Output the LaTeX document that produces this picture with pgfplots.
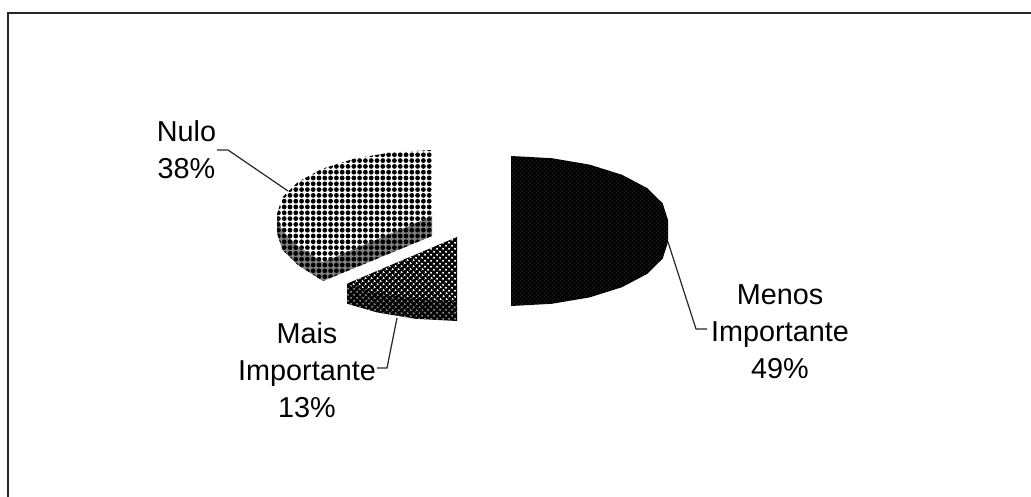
\documentclass[border=0pt]{standalone}
\usepackage{pgfplots}
\pgfplotsset{compat=1.18}
\usetikzlibrary{patterns.meta}
\usepackage{fontspec}
\setmainfont{Liberation Sans}
\tikzset{
  wedgelabel/.style={align=center,anchor=base,inner sep=0pt,font=\fontsize{28.8}{37}\selectfont,text=black},
  leader/.style={draw=black!85,line width=1.2pt},
  nulodots/.style={pattern={Dots[radius=2.4pt,distance=5.8pt]},pattern color=black},
}
\begin{document}
\begin{tikzpicture}
\begin{axis}[
  scale only axis,width=1031pt,height=497pt,
  xmin=0,xmax=1031,ymin=0,ymax=497,y dir=reverse,
  hide axis,no markers,
]
% keep the whole plot area inside the page
\path (axis cs:0,0) rectangle (axis cs:1031,497);

% outer frame
\addplot[draw=black!85,line width=1.8pt] coordinates {(8,497) (8,13) (1031,13)};

% Nulo (38%): side wall, then top face
\addplot[draw=none,preaction={fill=black!50},nulodots] coordinates {
  (277,214) (277,233) (282.3,249.6) (297.8,265) (323,281) (432,236) (432,214)} -- cycle;
\addplot[draw=none,preaction={fill=white},nulodots] coordinates {
  (432,150) (391.9,152.2) (354.5,158.6) (322.4,168.7) (297.8,182) (282.3,197.4)
  (277,214) (282.3,230.6) (297.8,246) (323,262) (432,216)} -- cycle;

% Mais Importante (13%): side wall, then top face
\addplot[draw=none,preaction={fill=black},pattern={Dots[radius=1.3pt,distance=4pt,angle=45]},pattern color=black!50] coordinates {
  (347,283.7) (347,303.7) (377,312.4) (415.6,318.8) (457,321) (457,301)} -- cycle;
\addplot[draw=none,preaction={fill=black},pattern={Dots[radius=1.3pt,distance=4pt,angle=45]},pattern color=white] coordinates {
  (457,237) (347,283.7) (377,292.4) (415.6,298.8) (457,301)} -- cycle;

% Menos Importante (49%): top face and wall share one dark fill
\addplot[draw=none,preaction={fill=black},pattern={Dots[radius=0.35pt,distance=2.83pt,angle=45]},pattern color=black!45] coordinates {
  (511,156) (551.7,158.2) (589.5,164.6) (622,174.8) (647,188) (662.7,203.4) (668,220)
  (668,242) (662.7,258.6) (647,274) (622,287.2) (589.5,297.4) (551.7,303.8) (511,306)} -- cycle;

% leader lines
\addplot[leader] coordinates {(217,150) (228,150) (288,191)};
\addplot[leader] coordinates {(668,242) (696,329) (707,329)};
\addplot[leader] coordinates {(397,318) (387,368) (377,368)};

% slice labels
\node[wedgelabel] at (axis cs:186.5,179) {Nulo\\38\%};
\node[wedgelabel] at (axis cs:780,378) {Menos\\Importante\\49\%};
\node[wedgelabel] at (axis cs:307,417) {Mais\\Importante\\13\%};
\end{axis}
\end{tikzpicture}
\end{document}
